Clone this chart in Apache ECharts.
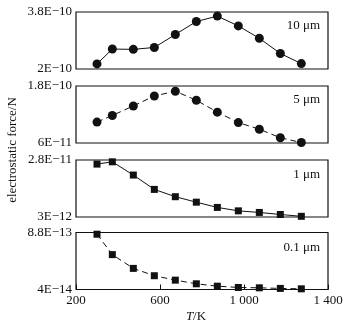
<!DOCTYPE html>
<html><head><meta charset="utf-8">
<script src="https://cdn.jsdelivr.net/npm/echarts@6/dist/echarts.min.js"></script>
<style>html,body{margin:0;padding:0;background:#fff}#c{width:348px;height:329px}</style>
</head><body><div id="c"></div>
<script>
var temps = [300, 373, 473, 573, 673, 773, 873, 973, 1073, 1173, 1273];
var force10um = [2.16e-10, 2.63e-10, 2.62e-10, 2.68e-10, 3.09e-10, 3.50e-10, 3.67e-10, 3.36e-10, 2.97e-10, 2.49e-10, 2.17e-10];
var force5um = [1.04e-10, 1.18e-10, 1.38e-10, 1.59e-10, 1.69e-10, 1.50e-10, 1.25e-10, 1.03e-10, 0.89e-10, 0.71e-10, 0.61e-10];
var force1um = [2.62e-11, 2.72e-11, 2.14e-11, 1.51e-11, 1.19e-11, 0.95e-11, 0.72e-11, 0.57e-11, 0.50e-11, 0.41e-11, 0.33e-11];
var force01um = [8.55e-13, 5.54e-13, 3.51e-13, 2.43e-13, 1.78e-13, 1.24e-13, 0.89e-13, 0.70e-13, 0.65e-13, 0.56e-13, 0.50e-13];
var panelNames = ['10 μm', '5 μm', '1 μm', '0.1 μm'];
var yMins = [2e-10, 6e-11, 3e-12, 4e-14];
var yMaxs = [3.8e-10, 1.8e-10, 2.8e-11, 8.8e-13];
var yTickLabels = [['2E−10', '3.8E−10'], ['6E−11', '1.8E−10'], ['3E−12', '2.8E−11'], ['4E−14', '8.8E−13']];
var xTicks = [200, 600, 1000, 1400];
var xTickLabels = ['200', '600', '1 000', '1 400'];

var FONT = 'Liberation Serif, Times New Roman, Times, serif';
var seriesData = [force10um, force5um, force1um, force01um];
var symbols = ['circle', 'circle', 'rect', 'rect'];
var lineTypes = ['solid', [6, 4], 'solid', [6, 4]];
var tops = [12, 86, 160, 232.5];
var H = 57;

var grids = [], xAxes = [], yAxes = [], series = [], graphics = [];
for (var i = 0; i < 4; i++) {
  grids.push({left: 76, right: 20, top: tops[i], height: H, show: true, borderColor: '#111', borderWidth: 1.2, backgroundColor: 'transparent'});
  var last = (i === 3);
  xAxes.push({
    type: 'value', gridIndex: i, min: 200, max: 1400,
    axisLine: {show: false}, splitLine: {show: false},
    axisTick: {show: last, inside: true, length: 5, lineStyle: {color: '#111'}, customValues: xTicks},
    axisLabel: {show: last, customValues: xTicks, margin: 5, color: '#111', fontFamily: FONT, fontSize: 13,
      formatter: function (v) { var k = xTicks.indexOf(Math.round(v)); return k >= 0 ? xTickLabels[k] : ''; }}
  });
  (function (idx) {
    yAxes.push({
      type: 'value', gridIndex: idx, min: yMins[idx], max: yMaxs[idx],
      axisLine: {show: false}, splitLine: {show: false}, axisTick: {show: false},
      axisLabel: {customValues: [yMins[idx], yMaxs[idx]], margin: 4, color: '#111', fontFamily: FONT, fontSize: 13,
        formatter: function (v) {
          var d0 = Math.abs(v - yMins[idx]), d1 = Math.abs(v - yMaxs[idx]);
          return d0 < d1 ? yTickLabels[idx][0] : yTickLabels[idx][1];
        }}
    });
  })(i);
  series.push({
    type: 'line', xAxisIndex: i, yAxisIndex: i,
    data: temps.map(function (t, k) { return [t, seriesData[i][k]]; }),
    symbol: symbols[i], symbolSize: symbols[i] === 'circle' ? 9 : 7,
    itemStyle: {color: '#111'},
    lineStyle: {color: '#111', width: 1, type: lineTypes[i]},
    animation: false
  });
}
var labelY = [27, 101, 176, 249];
for (var j = 0; j < 4; j++) {
  graphics.push({type: 'text', right: 28, top: labelY[j] - 8, style: {text: panelNames[j], fontFamily: FONT, fontSize: 13, fill: '#111'}});
}
graphics.push({type: 'text', x: 13, y: 150, rotation: Math.PI / 2,
  style: {text: 'electrostatic force/N', fontFamily: FONT, fontSize: 13, fill: '#111', align: 'center', verticalAlign: 'middle'}});
graphics.push({type: 'text', x: 196, y: 317,
  style: {text: '{i|T}/K', align: 'center', verticalAlign: 'middle', fill: '#111', fontFamily: FONT, fontSize: 13,
    rich: {i: {fontStyle: 'italic', fontFamily: FONT, fontSize: 13, fill: '#111'}}}});

var chart = echarts.init(document.getElementById('c'), null, {renderer: 'canvas'});
chart.setOption({
  animation: false,
  backgroundColor: '#fff',
  grid: grids, xAxis: xAxes, yAxis: yAxes, series: series, graphic: graphics
});
</script></body></html>
